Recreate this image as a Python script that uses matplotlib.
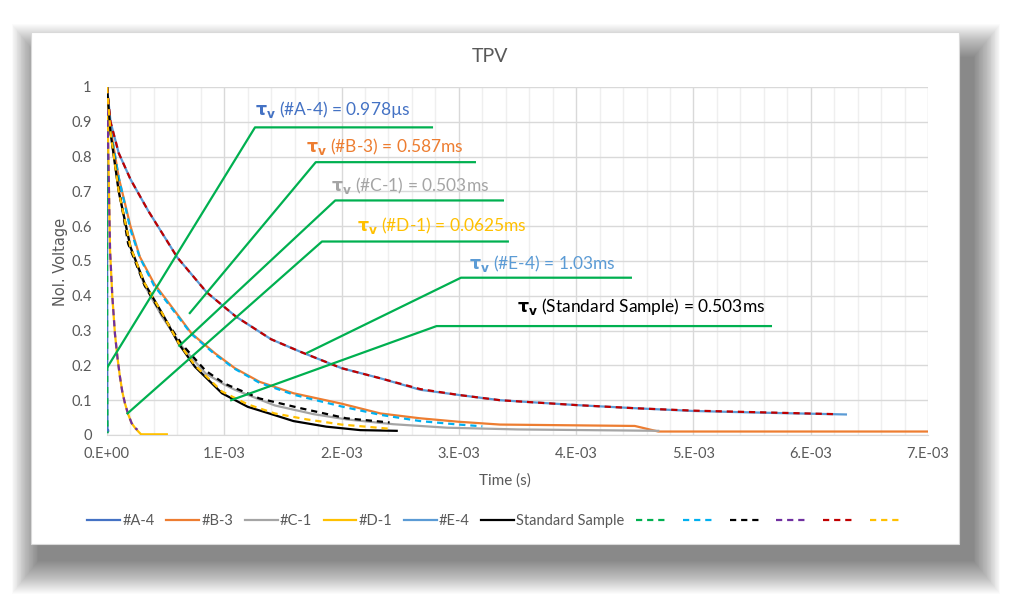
import numpy as np
import matplotlib
matplotlib.use("Agg")
import matplotlib.pyplot as plt
from matplotlib.patches import Rectangle
from matplotlib.ticker import MultipleLocator, FixedLocator, FixedFormatter

plt.rcParams['font.family'] = ['Lato', 'DejaVu Sans']
plt.rcParams['mathtext.fontset'] = 'dejavusans'

# ---- data (time in ms, normalised voltage) ----
a4_t = [0, 0.001, 0.002, 0.003, 0.004, 0.006, 0.01]
a4_v = [1.0, 0.36, 0.13, 0.05, 0.02, 0.012, 0.012]

b3_t = [0, 0.03, 0.1, 0.2, 0.28, 0.4, 0.55, 0.72, 0.92, 1.09, 1.3, 1.59, 2.0, 2.33, 2.67, 3.0, 3.35, 4.5, 4.7, 7.0]
b3_v = [1.0, 0.88, 0.74, 0.6, 0.512, 0.436, 0.369, 0.292, 0.235, 0.192, 0.153, 0.12, 0.09, 0.062, 0.048, 0.038, 0.03, 0.026, 0.01, 0.01]

c1_t = [0, 0.03, 0.1, 0.2, 0.32, 0.47, 0.64, 0.84, 1.0, 1.09, 1.43, 1.76, 2.04, 2.44, 2.9, 3.5, 4.7]
c1_v = [1.0, 0.87, 0.7, 0.54, 0.43, 0.34, 0.254, 0.177, 0.145, 0.13, 0.085, 0.06, 0.045, 0.031, 0.021, 0.016, 0.012]

d1_t = [0, 0.01, 0.02, 0.026, 0.045, 0.068, 0.09, 0.11, 0.13, 0.153, 0.18, 0.21, 0.24, 0.267, 0.29, 0.51]
d1_v = [1.0, 0.83, 0.64, 0.53, 0.4, 0.29, 0.22, 0.168, 0.125, 0.091, 0.06, 0.034, 0.02, 0.01, 0.002, 0.002]

e4_t = [0, 0.03, 0.1, 0.2, 0.35, 0.6, 0.85, 1.1, 1.4, 1.65, 2.0, 2.33, 2.67, 3.0, 3.35, 4.0, 4.5, 5.0, 5.6, 6.3]
e4_v = [1.0, 0.90, 0.81, 0.735, 0.645, 0.51, 0.41, 0.34, 0.275, 0.239, 0.192, 0.163, 0.13, 0.115, 0.10, 0.086, 0.077, 0.069, 0.064, 0.059]

std_t = [0, 0.03, 0.1, 0.2, 0.32, 0.47, 0.61, 0.75, 0.98, 1.2, 1.43, 1.59, 1.87, 2.16, 2.47]
std_v = [1.0, 0.87, 0.7, 0.54, 0.436, 0.35, 0.263, 0.196, 0.12, 0.081, 0.057, 0.04, 0.024, 0.014, 0.012]

# fitted curves (dashed)
fit_a4_t = [0, 0.001, 0.002, 0.003, 0.004, 0.006]
fit_a4_v = [1.0, 0.36, 0.13, 0.05, 0.02, 0.005]
fit_b3_t = [0, 0.03, 0.1, 0.2, 0.28, 0.4, 0.55, 0.72, 0.92, 1.09, 1.3, 1.6, 2.0, 2.33, 2.67, 3.0, 3.2]
fit_b3_v = [1.0, 0.88, 0.74, 0.59, 0.51, 0.43, 0.365, 0.29, 0.232, 0.19, 0.15, 0.115, 0.082, 0.058, 0.04, 0.03, 0.025]
fit_c1_t = [0, 0.03, 0.1, 0.18, 0.32, 0.47, 0.64, 0.84, 1.0, 1.3, 1.65, 2.04, 2.41]
fit_c1_v = [1.0, 0.87, 0.71, 0.55, 0.43, 0.345, 0.26, 0.185, 0.148, 0.105, 0.077, 0.048, 0.036]
fit_d1_t = [0, 0.01, 0.02, 0.026, 0.045, 0.068, 0.09, 0.11, 0.13, 0.153, 0.18, 0.21, 0.24, 0.26]
fit_d1_v = [1.0, 0.83, 0.64, 0.53, 0.4, 0.29, 0.22, 0.168, 0.125, 0.091, 0.06, 0.034, 0.02, 0.015]
fit_e4_t = [0, 0.03, 0.1, 0.2, 0.35, 0.6, 0.85, 1.1, 1.4, 1.65, 2.0, 2.33, 2.67, 3.0, 3.35, 4.0, 4.5, 5.0, 5.6, 6.2]
fit_e4_v = [1.0, 0.90, 0.81, 0.735, 0.645, 0.51, 0.41, 0.34, 0.275, 0.239, 0.192, 0.163, 0.132, 0.115, 0.10, 0.086, 0.077, 0.07, 0.065, 0.06]
fit_std_t = [0, 0.03, 0.1, 0.2, 0.32, 0.47, 0.61, 0.75, 0.98, 1.2, 1.43, 1.7, 2.0, 2.41]
fit_std_v = [1.0, 0.87, 0.7, 0.54, 0.436, 0.35, 0.265, 0.2, 0.125, 0.088, 0.062, 0.045, 0.03, 0.018]

series_labels = ['#A-4', '#B-3', '#C-1', '#D-1', '#E-4', 'Standard Sample']
series_colors = ['#4472C4', '#ED7D31', '#A5A5A5', '#FFC000', '#5B9BD5', '#000000']
fit_colors = ['#00B050', '#00B0F0', '#000000', '#7030A0', '#C00000', '#FFC000']

# annotation texts: (label, colour, text position, leader line points) in ms / volts
notes = [
    ('(#A-4) = 0.978µs', '#4472C4', (1.262, 0.934), [(0, 0.193), (1.262, 0.884), (2.78, 0.884)]),
    ('(#B-3) = 0.587ms', '#ED7D31', (1.697, 0.828), [(0.70, 0.348), (1.78, 0.784), (3.146, 0.784)]),
    ('(#C-1) = 0.503ms', '#A5A5A5', (1.91, 0.718), [(0.61, 0.254), (1.946, 0.674), (3.385, 0.674)]),
    ('(#D-1) = 0.0625ms', '#FFC000', (2.129, 0.603), [(0.168, 0.06), (1.833, 0.556), (3.427, 0.556)]),
    ('(#E-4) = 1.03ms', '#5B9BD5', (3.084, 0.493), [(1.70, 0.235), (3.018, 0.452), (4.476, 0.452)]),
    ('(Standard Sample) = 0.503ms', '#000000', (3.493, 0.369), [(1.05, 0.099), (2.81, 0.313), (5.67, 0.313)]),
]

x_tick_labels = ['0.E+00', '1.E-03', '2.E-03', '3.E-03', '4.E-03', '5.E-03', '6.E-03', '7.E-03']
y_tick_labels = ['0', '0.1', '0.2', '0.3', '0.4', '0.5', '0.6', '0.7', '0.8', '0.9', '1']

W, H = 1023, 607
fig = plt.figure(figsize=(W / 100, H / 100), dpi=100)
fig.patch.set_facecolor('white')


def fx(px):
    return px / W


def fy(py):
    return 1 - py / H


# soft drop shadow behind the chart frame
fl, ft, fr, fb = 31, 32, 959, 544
n = 34
for i in range(n):
    g = n - i
    fig.patches.append(Rectangle((fx(fl + 8 - g * 0.8), fy(fb + 16 + g)), fx(fr - fl + 1.6 * g + 6), (fb - ft + 2 * g - 10) / H,
                                 transform=fig.transFigure, facecolor='black', edgecolor='none',
                                 alpha=0.014, zorder=0))
fig.patches.append(Rectangle((fx(fl), fy(fb)), fx(fr - fl), (fb - ft) / H, transform=fig.transFigure,
                             facecolor='white', edgecolor='#D9D9D9', lw=0.8, zorder=1))

ax = fig.add_axes([fx(107), fy(435), fx(928 - 107), (435 - 87) / H])
ax.set_facecolor('none')
ax.set_zorder(2)

ms = 1e-3
solid = [(a4_t, a4_v), (b3_t, b3_v), (c1_t, c1_v), (d1_t, d1_v), (e4_t, e4_v), (std_t, std_v)]
fits = [(fit_a4_t, fit_a4_v), (fit_b3_t, fit_b3_v), (fit_c1_t, fit_c1_v),
        (fit_d1_t, fit_d1_v), (fit_e4_t, fit_e4_v), (fit_std_t, fit_std_v)]

handles = []
for (t, v), c, lab in zip(solid, series_colors, series_labels):
    h, = ax.plot(np.array(t) * ms, v, color=c, lw=1.6, label=lab, zorder=3)
    handles.append(h)
for (t, v), c in zip(fits, fit_colors):
    h, = ax.plot(np.array(t) * ms, v, color=c, lw=1.6, ls=(0, (2.8, 2.2)), zorder=4)
    handles.append(h)

# leader lines and labels
for text, c, (tx, ty), pts in notes:
    px = [p[0] * ms for p in pts]
    py = [p[1] for p in pts]
    ax.plot(px, py, color='#00B050', lw=1.6, zorder=5, solid_capstyle='butt')
    ax.text(tx * ms, ty, r'$\mathbf{\tau_v}$ ' + text, color=c, fontsize=12.5,
            va='center', ha='left', zorder=6)

ax.set_xlim(0, 7 * ms)
ax.set_ylim(0, 1)
ax.xaxis.set_major_locator(FixedLocator(np.arange(8) * ms))
ax.xaxis.set_major_formatter(FixedFormatter(x_tick_labels))
ax.xaxis.set_minor_locator(MultipleLocator(0.2 * ms))
ax.yaxis.set_major_locator(FixedLocator(np.arange(11) / 10))
ax.yaxis.set_major_formatter(FixedFormatter(y_tick_labels))
ax.grid(True, which='major', color='#D9D9D9', lw=1.0)
ax.grid(True, which='minor', axis='x', color='#EFEFEF', lw=1.0)
ax.set_axisbelow(True)
for s in ['top', 'right', 'left']:
    ax.spines[s].set_visible(False)
ax.spines['bottom'].set_color('#D9D9D9')
ax.tick_params(which='both', length=0, labelsize=10.5, labelcolor='#595959')
ax.tick_params(axis='y', pad=11)
ax.tick_params(axis='x', pad=9)

fig.text(fx(490), fy(56), 'TPV', fontsize=14, color='#595959', ha='center', va='center')
fig.text(fx(505), fy(481), 'Time (s)', fontsize=11, color='#595959', ha='center', va='center')
fig.text(fx(61), fy(262), 'Nol. Voltage', fontsize=10.5, color='#595959', ha='center', va='center',
         rotation=90, family='DejaVu Sans')

fig.legend(handles, series_labels + [''] * 6, loc='center', bbox_to_anchor=(fx(496), fy(521)),
           ncol=12, frameon=False, fontsize=10.5, labelcolor='#595959', handlelength=2.25,
           handletextpad=0.15, columnspacing=0.8)

fig.savefig('out.png', dpi=100, facecolor='white')
